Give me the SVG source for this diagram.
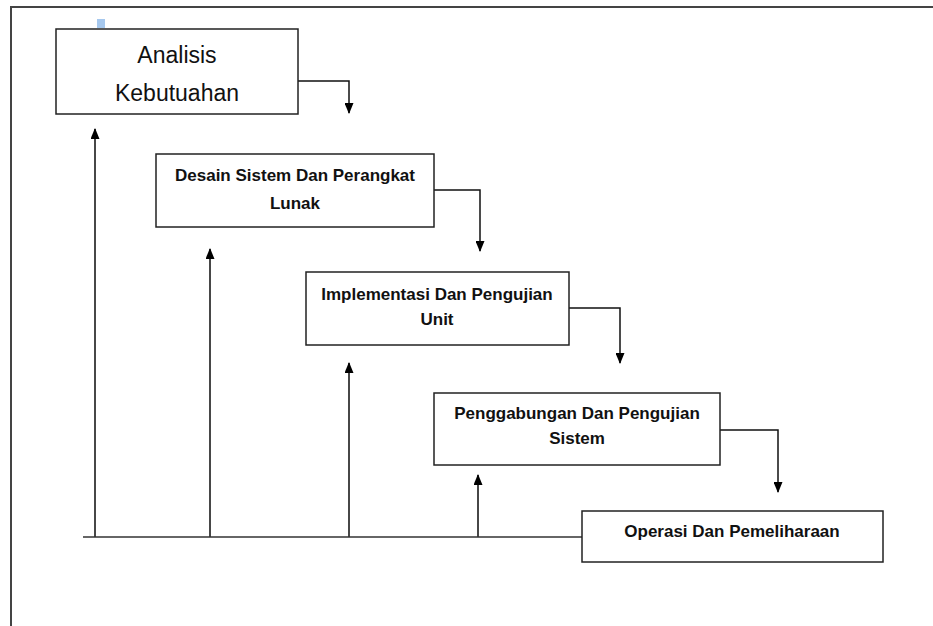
<svg xmlns="http://www.w3.org/2000/svg" width="933" height="626" viewBox="0 0 933 626">
<defs>
<marker id="ah" markerWidth="11" markerHeight="9" refX="10" refY="4.5" orient="auto" markerUnits="userSpaceOnUse" viewBox="0 0 11 9">
<path d="M0,0 L11,4.5 L0,9 Z" fill="#000"/>
</marker>
<style>
.box{fill:#fff;stroke:#222;stroke-width:1.5}
.t{font-family:"Liberation Sans","Open Sans",sans-serif;fill:#111;text-anchor:middle}
.b{font-weight:bold;font-size:17px}
.r{font-size:23px}
.c{fill:none;stroke:#111;stroke-width:1.5}
.up{fill:none;stroke:#333;stroke-width:1.8}
.frame{stroke:#444;stroke-width:2;fill:none}
</style>
</defs>
<rect width="933" height="626" fill="#fff"/>
<path class="frame" d="M11,626 L11,7 L933,7"/>
<rect x="97" y="19" width="8" height="9" fill="#a6c8ee"/>
<g id="connectors">
<path class="c" d="M298,81 H349 V113" marker-end="url(#ah)"/>
<path class="c" d="M434,190 H480 V251" marker-end="url(#ah)"/>
<path class="c" d="M569,308 H620 V363" marker-end="url(#ah)"/>
<path class="c" d="M720,430 H778 V492" marker-end="url(#ah)"/>
<path d="M83,537 H582" stroke="#666" stroke-width="2" fill="none"/>
<path class="up" d="M95,537 V129" marker-end="url(#ah)"/>
<path class="up" d="M210,537 V249" marker-end="url(#ah)"/>
<path class="up" d="M349,537 V363" marker-end="url(#ah)"/>
<path class="up" d="M478,537 V475" marker-end="url(#ah)"/>
</g>
<g id="n1">
<rect class="box" x="56" y="29" width="242" height="85"/>
<text class="t r" x="177" y="63">Analisis</text>
<text class="t r" x="177" y="101">Kebutuahan</text>
</g>
<g id="n2">
<rect class="box" x="156" y="154" width="278" height="73"/>
<text class="t b" x="295" y="181">Desain Sistem Dan Perangkat</text>
<text class="t b" x="295" y="209">Lunak</text>
</g>
<g id="n3">
<rect class="box" x="306" y="272" width="263" height="73"/>
<text class="t b" x="437" y="300">Implementasi Dan Pengujian</text>
<text class="t b" x="437" y="325">Unit</text>
</g>
<g id="n4">
<rect class="box" x="434" y="393" width="286" height="72"/>
<text class="t b" x="577" y="419">Penggabungan Dan Pengujian</text>
<text class="t b" x="577" y="444">Sistem</text>
</g>
<g id="n5">
<rect class="box" x="582" y="511" width="301" height="51"/>
<text class="t b" x="732" y="537">Operasi Dan Pemeliharaan</text>
</g>
</svg>
